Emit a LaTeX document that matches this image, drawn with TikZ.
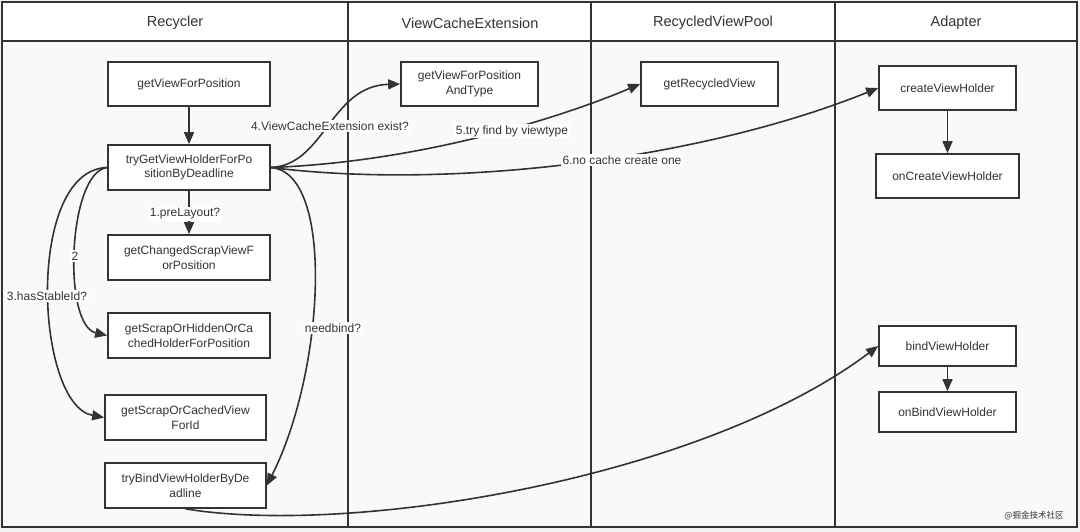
\documentclass[tikz,border=0pt]{standalone}
\usepackage{fontspec}
\setmainfont{Liberation Sans}
\newfontfamily\cjk{Noto Sans CJK SC}
\usetikzlibrary{arrows.meta}
\definecolor{ink}{HTML}{333333}
\definecolor{lanebg}{HTML}{F9F9F9}
\definecolor{outbg}{HTML}{F3F3F3}
\begin{document}
\begin{tikzpicture}[x=1pt,y=-1pt,
  frame/.style={draw=ink, line width=1.8pt},
  head/.style={text=ink, font=\fontsize{14.5}{16}\selectfont},
  box/.style={draw=ink, line width=1.7pt, fill=white, text=ink,
    font=\fontsize{12}{14.5}\selectfont, align=center, inner sep=0pt},
  flow/.style={draw=ink, line width=1.6pt, -{Triangle[length=12pt,width=10pt]}},
  lbl/.style={fill=white, text=ink, font=\fontsize{12}{14}\selectfont, inner sep=1.5pt}]
\useasboundingbox (0,0) rectangle (1080,532);
\fill[outbg] (0,0) rectangle (1080,532);
% lanes
\fill[lanebg] (2,41) rectangle (1077,527);
\fill[white] (2,2) rectangle (1077,41);
\draw[frame] (2,2) rectangle (1077,527);
\draw[frame] (2,41) -- (1077,41);
\draw[frame] (348,2) -- (348,527);
\draw[frame] (591,2) -- (591,527);
\draw[frame] (835,2) -- (835,527);
\node[head] (h1) at (175,23) {Recycler};
\node[head] (h2) at (470,23) {ViewCacheExtension};
\node[head] (h3) at (713,23) {RecycledViewPool};
\node[head] (h4) at (956,23) {Adapter};
% boxes
\node[box, minimum width=162pt, minimum height=44pt] (gv) at (189,84) {getViewForPosition};
\node[box, minimum width=162pt, minimum height=45pt] (tg) at (189,167.5) {tryGetViewHolderForPo\\sitionByDeadline};
\node[box, minimum width=162pt, minimum height=45pt] (gc) at (189,257.5) {getChangedScrapViewF\\orPosition};
\node[box, minimum width=162pt, minimum height=45pt] (gs) at (189,335.5) {getScrapOrHiddenOrCa\\chedHolderForPosition};
\node[box, minimum width=161pt, minimum height=45pt] (gi) at (185.5,417.5) {getScrapOrCachedView\\ForId};
\node[box, minimum width=161pt, minimum height=45pt] (tb) at (185.5,485.5) {tryBindViewHolderByDe\\adline};
\node[box, minimum width=137pt, minimum height=44pt] (vc) at (469.5,84) {getViewForPosition\\AndType};
\node[box, minimum width=137pt, minimum height=44pt] (rv) at (709.5,84) {getRecycledView};
\node[box, minimum width=137pt, minimum height=44pt] (cv) at (947.5,88) {createViewHolder};
\node[box, minimum width=143pt, minimum height=44pt] (oc) at (947.5,176) {onCreateViewHolder};
\node[box, minimum width=137pt, minimum height=40pt] (bv) at (947.5,346) {bindViewHolder};
\node[box, minimum width=137pt, minimum height=40pt] (ob) at (947.5,412) {onBindViewHolder};
% connectors
\draw[flow] (gv) -- (tg);
\draw[flow] (tg) -- (gc);
\draw[flow] (cv) -- (oc);
\draw[flow] (bv) -- (ob);
\draw[flow] (tg.west) .. controls (68,172) and (62,325) .. (gs.west);
\draw[flow] (tg.west) .. controls (25,170) and (35,405) .. (gi.west);
\draw[flow] (tg.east) .. controls (335,172) and (325,370) .. (tb.east);
\draw[flow] (tg.east) .. controls (325,165) and (330,86) .. (vc.west);
\draw[flow] (tg.east) .. controls (420,162) and (560,118) .. (rv.west);
\draw[flow] (tg.east) .. controls (450,190) and (700,160) .. (cv.west);
\draw[flow] (tb.south) .. controls (350,536) and (700,480) .. (bv.west);
% labels
\node[lbl] (l1) at (185,214) {1.preLayout?};
\node[lbl] (l2) at (75,256) {2};
\node[lbl] (l3) at (47,296) {3.hasStableId?};
\node[lbl] (l4) at (330,126) {4.ViewCacheExtension exist?};
\node[lbl] (l5) at (512,131) {5.try find by viewtype};
\node[lbl] (l6) at (622,160) {6.no cache create one};
\node[lbl] (l7) at (333,328) {needbind?};
\node[text=ink, font=\cjk\fontsize{8.5}{10}\selectfont] (wm) at (1034,516) {@掘金技术社区};
\end{tikzpicture}
\end{document}
